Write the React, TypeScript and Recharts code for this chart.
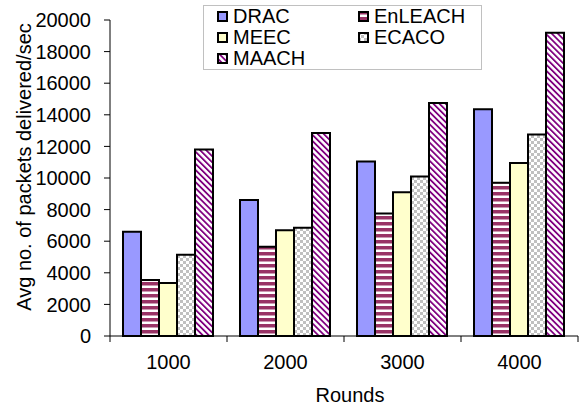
import React from "react";
import { BarChart, Bar, XAxis, YAxis, Legend } from "recharts";

const rounds = ["1000", "2000", "3000", "4000"];
const drac = [6600, 8600, 11050, 14350];
const enleach = [3550, 5650, 7750, 9700];
const meec = [3350, 6700, 9100, 10950];
const ecaco = [5150, 6850, 10100, 12750];
const maach = [11800, 12850, 14750, 19200];
const yTicks = [0, 2000, 4000, 6000, 8000, 10000, 12000, 14000, 16000, 18000, 20000];

const series = [
  { key: "DRAC", fill: "#9999FF" },
  { key: "EnLEACH", fill: "url(#pEnleach)" },
  { key: "MEEC", fill: "#FFFFCC" },
  { key: "ECACO", fill: "url(#pEcaco)" },
  { key: "MAACH", fill: "url(#pMaach)" },
];

const data = rounds.map((r, i) => ({
  round: r,
  DRAC: drac[i],
  EnLEACH: enleach[i],
  MEEC: meec[i],
  ECACO: ecaco[i],
  MAACH: maach[i],
}));

const FONT = '"Liberation Sans", Arial, sans-serif';
const BAND = 117; // width of one category on the x axis

function RoundTick(props: any) {
  const { x, y, payload, index } = props;
  return (
    <g>
      <line x1={x - BAND / 2} x2={x - BAND / 2} y1={y} y2={y + 6} stroke="#000" />
      {index === rounds.length - 1 && (
        <line x1={x + BAND / 2} x2={x + BAND / 2} y1={y} y2={y + 6} stroke="#000" />
      )}
      <text x={x} y={y + 33} textAnchor="middle" fontSize={20} fill="#000" fontFamily={FONT}>
        {payload.value}
      </text>
    </g>
  );
}

function LegendBox() {
  return (
    <div
      style={{
        border: "1px solid #c0c0c0",
        width: 279,
        height: 65,
        boxSizing: "border-box",
        display: "grid",
        gridTemplateColumns: "141px 136px",
        gridAutoRows: "21px",
        paddingTop: 0,
        fontFamily: FONT,
        fontSize: 20,
        background: "#fff",
      }}
    >
      {series.map((s) => (
        <div key={s.key} style={{ display: "flex", alignItems: "center", paddingLeft: 13 }}>
          <svg width={11} height={11} style={{ marginRight: 5 }}>
            <rect x={1} y={1} width={9} height={9} fill={s.fill} stroke="#000" strokeWidth={2} />
          </svg>
          <span style={{ lineHeight: "21px" }}>{s.key}</span>
        </div>
      ))}
    </div>
  );
}

export default function App() {
  return (
    <div style={{ position: "absolute", left: 0, top: 0, background: "#fff" }}>
      <BarChart
        width={580}
        height={405}
        data={data}
        margin={{ top: 20, right: 2, bottom: 0, left: 0 }}
        barCategoryGap={13}
        barGap={0}
        style={{ fontFamily: FONT }}
      >
        <defs>
          <pattern id="pEnleach" width={6} height={6} patternUnits="userSpaceOnUse">
            <rect width={6} height={6} fill="#fff" />
            <rect width={6} height={3.5} fill="#993366" />
          </pattern>
          <pattern id="pEcaco" width={6} height={6} patternUnits="userSpaceOnUse">
            <rect width={6} height={6} fill="#fff" />
            <rect width={3} height={3} fill="#c0c0c0" />
            <rect x={3} y={3} width={3} height={3} fill="#c0c0c0" />
          </pattern>
          <pattern
            id="pMaach"
            width={4.3}
            height={4.3}
            patternUnits="userSpaceOnUse"
            patternTransform="rotate(-45)"
          >
            <rect width={4.3} height={4.3} fill="#fff" />
            <rect width={1.8} height={4.3} fill="#800080" />
          </pattern>
        </defs>
        <XAxis
          dataKey="round"
          height={69}
          stroke="#000"
          tickLine={false}
          tickSize={0}
          tickMargin={0}
          tick={<RoundTick />}
          interval={0}
          label={{
            value: "Rounds",
            position: "insideBottom",
            offset: 3,
            dx: 6,
            fontSize: 20,
            fill: "#000",
          }}
        />
        <YAxis
          width={110}
          domain={[0, 20000]}
          ticks={yTicks}
          interval={0}
          stroke="#000"
          tickSize={6}
          tickMargin={13}
          tick={{ fontSize: 20, fill: "#000" }}
        />
        <text
          x={31}
          y={167}
          transform="rotate(-90 31 167)"
          textAnchor="middle"
          fontSize={20}
          fill="#000"
          fontFamily={FONT}
        >
          Avg no. of packets delivered/sec
        </text>
        <Legend
          layout="vertical"
          align="center"
          verticalAlign="middle"
          wrapperStyle={{ position: "absolute", left: 203, top: 5, width: 279, height: 65 }}
          content={() => <LegendBox />}
        />
        {series.map((s) => (
          <Bar
            key={s.key}
            dataKey={s.key}
            fill={s.fill}
            stroke="#000"
            strokeWidth={2}
            isAnimationActive={false}
          />
        ))}
      </BarChart>
    </div>
  );
}
